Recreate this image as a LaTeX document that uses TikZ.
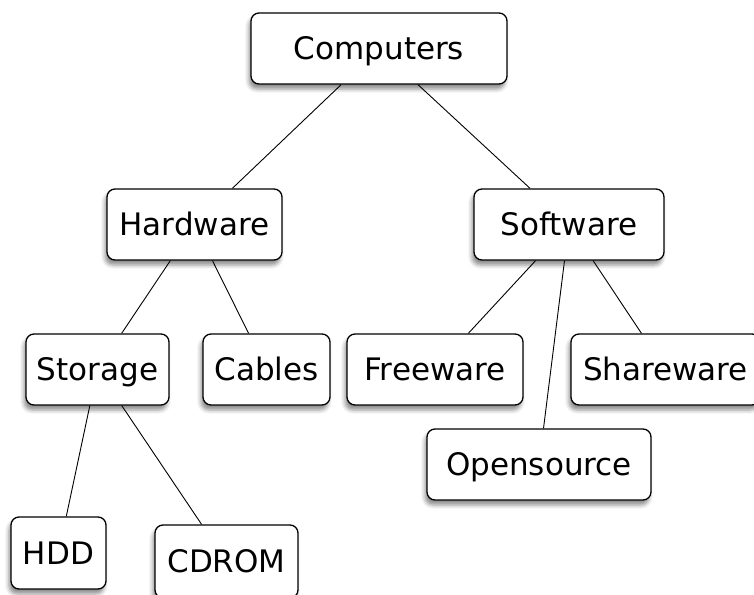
\documentclass[tikz,border=0pt]{standalone}
\usepackage{fontspec}
\setmainfont{DejaVu Sans}
\usetikzlibrary{shadows.blur}
\tikzset{
  box/.style={draw, line width=1.3pt, rounded corners=8pt, fill=white,
    inner sep=0pt, minimum height=71pt, text height=22.6pt, text depth=0pt,
    font=\fontsize{31}{36}\selectfont,
    blur shadow={shadow xshift=-2pt, shadow yshift=-5pt,
      shadow blur radius=4pt, shadow opacity=45}},
  link/.style={line width=0.9pt}
}

\begin{document}
\begin{tikzpicture}[x=1pt, y=-1pt]
  \useasboundingbox (0,0) rectangle (754,594);

  \node [box, minimum width=256pt] (comp) at (379,48.5) {Computers};
  \node [box, minimum width=175pt] (hw) at (194.5,224.5) {Hardware};
  \node [box, minimum width=190pt] (sw) at (569,224.5) {Software};
  \node [box, minimum width=143pt] (stor) at (97.5,369.5) {Storage};
  \node [box, minimum width=127pt] (cab) at (266.5,369.5) {Cables};
  \node [box, minimum width=176pt] (free) at (435,369.5) {Freeware};
  \node [box, minimum width=189pt] (share) at (665.5,369.5) {Shareware};
  \node [box, minimum width=224pt] (open) at (539,464.5) {Opensource};
  \node [box, minimum width=95pt, minimum height=72pt] (hdd) at (58.5,553) {HDD};
  \node [box, minimum width=143pt, minimum height=73pt] (cd) at (226.5,561.5) {CDROM};

  % tree links, centre to centre
  \draw[link] (comp) -- (hw);
  \draw[link] (comp) -- (sw);
  \draw[link] (hw) -- (stor);
  \draw[link] (hw) -- (cab);
  \draw[link] (sw) -- (free);
  \draw[link] (sw) -- (open);
  \draw[link] (sw) -- (share);
  \draw[link] (stor) -- (hdd);
  \draw[link] (stor) -- (cd);
\end{tikzpicture}
\end{document}
